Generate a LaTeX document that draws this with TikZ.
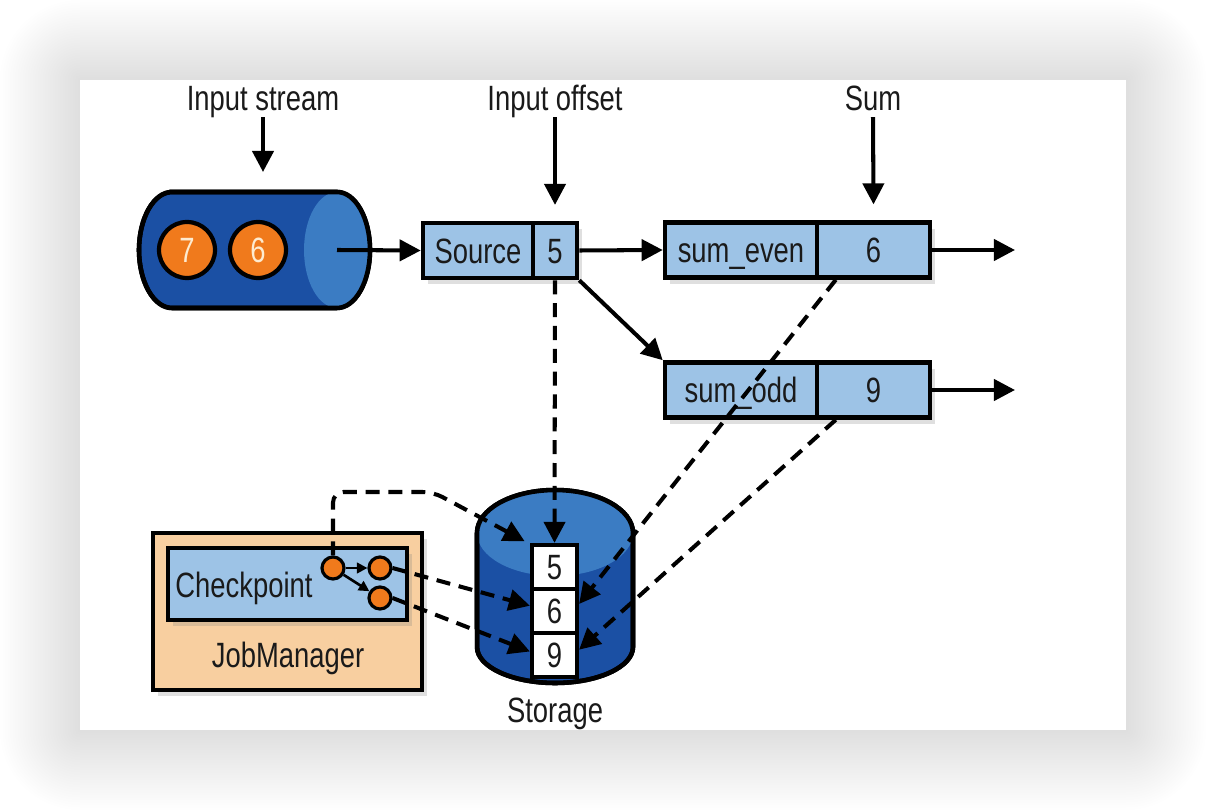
\documentclass[tikz,border=0pt]{standalone}
\usepackage{fontspec}
\setmainfont{Liberation Sans}[FakeStretch=0.78]
\usetikzlibrary{arrows.meta,shadows}
\definecolor{dblue}{HTML}{1B50A4}
\definecolor{lblue}{HTML}{3B7CC3}
\definecolor{boxblue}{HTML}{9DC3E6}
\definecolor{peach}{HTML}{F8CFA0}
\definecolor{orng}{HTML}{F07A1C}
\definecolor{numw}{HTML}{FDEBD0}
\definecolor{txt}{HTML}{1A1A1A}
\tikzset{
  box/.style={draw=black, line width=2.6pt, fill=boxblue, minimum height=1.1cm, inner sep=0pt,
    text height=14.3pt, text depth=0pt, text=txt,
    drop shadow={opacity=0.25, shadow xshift=3pt, shadow yshift=-3.5pt}},
  lbl/.style={inner sep=0pt, text height=14.3pt, text depth=0pt, text=txt},
  cell/.style={draw=black, line width=2.4pt, fill=white, minimum width=0.9cm, minimum height=0.88cm,
    inner sep=0pt, text height=14.3pt, text depth=0pt, text=txt},
  ball/.style={circle, draw=black, line width=2.4pt, fill=orng, minimum size=1.12cm, inner sep=0pt,
    text=numw, text height=14.3pt, text depth=0pt},
  dot/.style={circle, draw=black, line width=1.8pt, fill=orng, minimum size=0.44cm, inner sep=0pt},
  arr/.style={line width=2.3pt, -{Triangle[length=12pt,width=12pt]}},
  dsharr/.style={arr, dash pattern=on 8pt off 5pt},
  smallarr/.style={line width=1.5pt, -{Triangle[length=6pt,width=6pt]}}
}
\begin{document}
\begin{tikzpicture}[x=0.02cm, y=-0.02cm, font=\fontsize{20}{24}\selectfont]
\useasboundingbox (0,0) rectangle (1206,810);
% card shadow
\foreach \i in {1,...,32} {
  \pgfmathsetmacro\dd{\i*2.5}
  \pgfmathsetmacro\rr{\i*0.05}
  \fill[black, opacity=0.0035, rounded corners=\rr cm] (80-\dd,80-\dd) rectangle (1126+\dd,730+\dd);
}
\fill[white] (80,80) rectangle (1126,730);

% top labels
\node[lbl] (lin) at (263,98) {Input stream};
\node[lbl] (loff) at (555,98) {Input offset};
\node[lbl] (lsum) at (873,98) {Sum};

% input stream cylinder
\draw[line width=2.6pt, fill=dblue] (172,192) -- (337,192)
  arc[start angle=90,end angle=-90,x radius=0.66cm,y radius=1.16cm] -- (172,308)
  arc[start angle=270,end angle=90,x radius=0.66cm,y radius=1.16cm] -- cycle;
\fill[lblue] (337,250) ellipse [x radius=0.66cm, y radius=1.16cm];
\draw[line width=2.6pt] (172,192) -- (337,192)
  arc[start angle=90,end angle=-90,x radius=0.66cm,y radius=1.16cm] -- (172,308)
  arc[start angle=270,end angle=90,x radius=0.66cm,y radius=1.16cm] -- cycle;
\node[ball] (o7) at (187,250) {7};
\node[ball] (o6) at (258,250) {6};
\coordinate (face) at (337,250);
\coordinate (instop) at (263,172);

% operator boxes
\node[box, minimum width=2.2cm] (src) at (478,250.5) {Source};
\node[box, minimum width=0.88cm] (srcv) at (555,250.5) {5};
\node[box, minimum width=3.04cm] (even) at (741,250) {sum\_even};
\node[box, minimum width=2.26cm] (evenv) at (873.5,250) {6};
\node[box, minimum width=3.04cm] (odd) at (741,390) {sum\_odd};
\node[box, minimum width=2.26cm] (oddv) at (873.5,390) {9};
\coordinate (outE) at (1015,250);
\coordinate (outO) at (1015,390);

% top arrows
\draw[arr] ([yshift=-3.5pt]lin.south) -- (instop);
\draw[arr] ([yshift=-3.5pt]loff.south) -- ([yshift=9pt]srcv.north);
\draw[arr] ([yshift=-3.5pt]lsum.south) -- ([yshift=9pt]evenv.north);

% data flow arrows
\draw[arr] (face) -- (src.west);
\draw[arr] (srcv.east) -- (even.west);
\draw[arr] (srcv.south east) -- (odd.north west);
\draw[arr] (evenv.east) -- (outE);
\draw[arr] (oddv.east) -- (outO);

% storage cylinder
\draw[line width=2.6pt, fill=dblue] (477,533)
  arc[start angle=180,end angle=0,x radius=1.56cm,y radius=0.86cm] -- (633,647)
  arc[start angle=0,end angle=-180,x radius=1.56cm,y radius=0.72cm] -- cycle;
\fill[lblue] (555,533) ellipse [x radius=1.56cm, y radius=0.86cm];
\draw[line width=2.6pt] (477,533)
  arc[start angle=180,end angle=0,x radius=1.56cm,y radius=0.86cm] -- (633,647)
  arc[start angle=0,end angle=-180,x radius=1.56cm,y radius=0.72cm] -- cycle;
\node[cell] (c5) at (554.5,567) {5};
\node[cell] (c6) at (554.5,611) {6};
\node[cell] (c9) at (554.5,655) {9};
\node[lbl] (stl) at (555,710) {Storage};

% JobManager
\node[draw=black, line width=2.6pt, fill=peach, minimum width=5.38cm, minimum height=3.14cm,
  inner sep=0pt, drop shadow={opacity=0.25, shadow xshift=3pt, shadow yshift=-3.5pt}] (jm) at (287.5,611.5) {};
\node[lbl] (jml) at (288,655) {JobManager};
\node[draw=black, line width=2.6pt, fill=boxblue, minimum width=4.78cm, minimum height=1.44cm,
  inner sep=0pt, drop shadow={opacity=0.25, shadow xshift=3pt, shadow yshift=-3.5pt}] (cp) at (287.5,584) {};
\node[lbl] (cpl) at (244,585) {Checkpoint};
\node[dot] (k1) at (333,568) {};
\node[dot] (k2) at (380,568) {};
\node[dot] (k3) at (380,598) {};
\draw[smallarr] (k1) -- (k2);
\draw[smallarr] (k1) -- (k3);
\coordinate (bend) at (433,492);

% dashed state arrows
\draw[dsharr] (srcv.south) -- (c5.north);
\draw[dsharr] ([xshift=12pt]evenv.south west) -- ([yshift=4pt]c6.east);
\draw[dsharr] ([xshift=12pt]oddv.south west) -- ([yshift=3pt]c9.east);
\draw[dsharr, rounded corners=6pt] (k1.north) |- (bend) -- ([xshift=-3pt,yshift=1pt]c5.north west);
\draw[dsharr] (k2.east) -- ([yshift=3pt]c6.west);
\draw[dsharr] (k3.east) -- ([yshift=2pt]c9.west);
\end{tikzpicture}
\end{document}
